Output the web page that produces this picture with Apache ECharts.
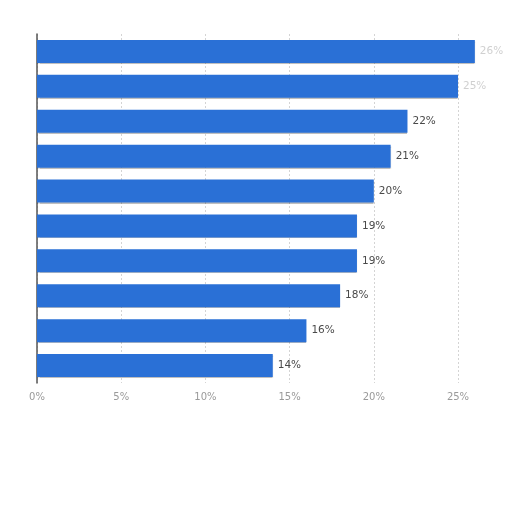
<!DOCTYPE html>
<html lang="en" style="height: 100%">
<head>
  <meta charset="utf-8">
</head>
<body style="height: 100%; margin: 0; background: #fff">
<div id="container" style="height: 100%"></div>

<script type="text/javascript" src="https://cdn.jsdelivr.net/npm/echarts@6/dist/echarts.min.js"></script>

<script type="text/javascript">
  // categories are not shown in the picture, top to bottom
  var categories = ['A', 'B', 'C', 'D', 'E', 'F', 'G', 'H', 'I', 'J'];
  var values = [26, 25, 22, 21, 20, 19, 19, 18, 16, 14];
  var xTicks = [0, 5, 10, 15, 20, 25];

  var dom = document.getElementById('container');
  var myChart = echarts.init(dom, null, { renderer: 'canvas' });

  var option = {
    animation: false,
    grid: { left: 37, right: 54, top: 34, bottom: 129 },
    xAxis: {
      type: 'value',
      min: xTicks[0],
      max: xTicks[xTicks.length - 1],
      interval: 5,
      axisLine: { show: false },
      axisTick: { show: false },
      axisLabel: {
        margin: 9,
        color: '#9a9a9a',
        fontSize: 10,
        fontFamily: 'DejaVu Sans',
        formatter: '{value}%'
      },
      splitLine: {
        lineStyle: { color: '#d4d4d4', type: [2, 2], width: 1 }
      }
    },
    yAxis: {
      type: 'category',
      inverse: true,
      data: categories,
      axisLine: { show: true, lineStyle: { color: '#555', width: 1.5 } },
      axisTick: { show: false },
      axisLabel: { show: false }
    },
    series: [
      {
        type: 'bar',
        clip: false,
        barCategoryGap: '34%',
        // the top two labels are faded in the picture
        data: values.map(function (v, i) {
          return { value: v, label: { color: i < 2 ? '#d0d0d0' : '#4a4a4a' } };
        }),
        itemStyle: {
          color: '#2a70d6',
          shadowColor: 'rgba(0,0,0,0.25)',
          shadowOffsetY: 1,
          shadowBlur: 1
        },
        label: {
          show: true,
          position: 'right',
          distance: 5,
          formatter: '{c}%',
          fontSize: 10.5,
          fontFamily: 'DejaVu Sans'
        }
      }
    ]
  };

  myChart.setOption(option);
  window.addEventListener('resize', myChart.resize);
</script>
</body>
</html>
